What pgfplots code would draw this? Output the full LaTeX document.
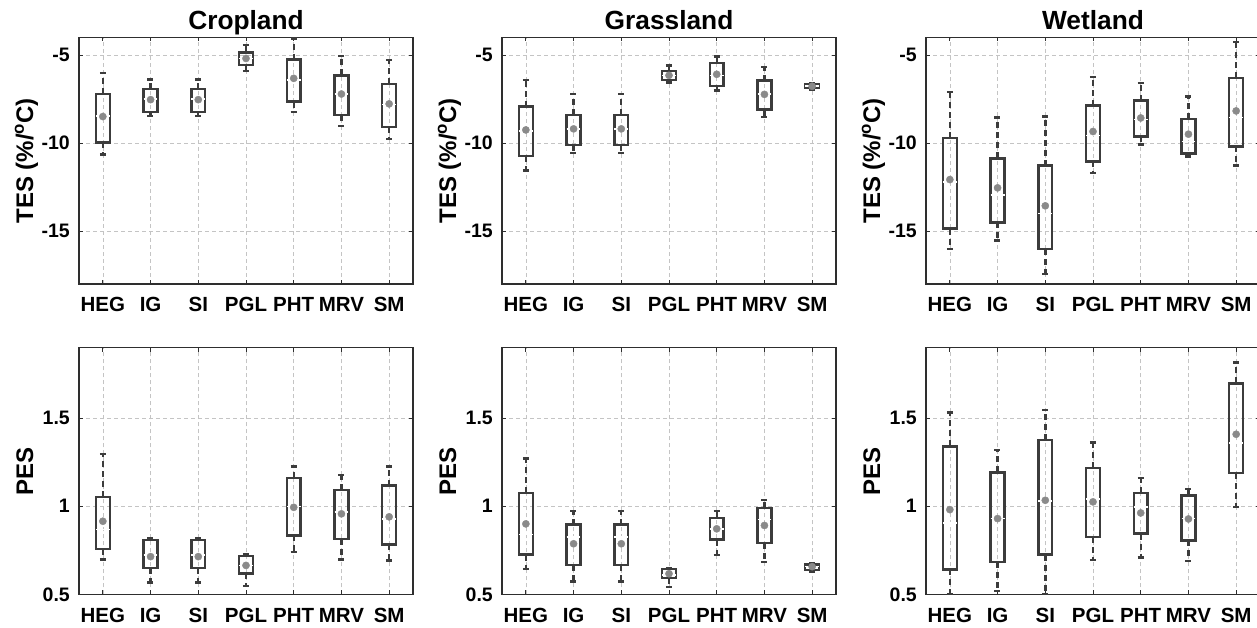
\documentclass[border=0pt]{standalone}
\usepackage{fontspec}
\setmainfont{Liberation Sans}
\usepackage{pgfplots}
\pgfplotsset{compat=1.18}
\usepgfplotslibrary{statistics}
\definecolor{boxc}{HTML}{3C3C3C}
\definecolor{dotc}{HTML}{8A8A8A}
\definecolor{gridc}{HTML}{C4C4C4}
\definecolor{axisc}{HTML}{2E2E2E}
\pgfplotsset{
  panel/.style={
    scale only axis, width=334pt, height=246.5pt,
    xmin=0.5, xmax=7.5, xtick={1,...,7},
    xticklabels={HEG,IG,SI,PGL,PHT,MRV,SM},
    tick align=inside, major tick length=4pt,
    tick style={axisc, line width=0.8pt},
    xmajorgrids, ymajorgrids,
    grid style={gridc, line width=0.6pt, dash pattern=on 4pt off 3pt},
    axis line style={axisc, line width=1.1pt},
    tick label style={font=\fontsize{19.5}{21}\selectfont\bfseries},
    xticklabel style={inner sep=0pt, yshift=-13pt, text height=14.5pt,
      font=\fontsize{20.5}{22}\selectfont\bfseries},
    yticklabel style={inner sep=0pt, xshift=-9pt},
    every axis y label/.style={at={(rel axis cs:0,0.5)}, rotate=90,
      anchor=base, yshift=46pt, inner sep=0pt,
      font=\fontsize{24}{26}\selectfont\bfseries},
    every axis title/.style={at={(0.5,1)}, anchor=base, yshift=7.7pt,
      inner sep=0pt, font=\fontsize{26.3}{28}\selectfont\bfseries},
    boxplot/draw direction=y,
    boxplot/box extend=0.29,
    boxplot/whisker extend=0.13,
    boxplot/every box/.style={draw=boxc, line width=2.4pt, solid},
    boxplot/every whisker/.style={draw=boxc, line width=2.4pt,
      dash pattern=on 6pt off 4pt},
    boxplot/every median/.style={draw=white, line width=1.6pt, solid},
    boxplot/every average/.style={/tikz/mark=*, /tikz/mark size=3.6pt,
      solid, line width=0.5pt},
  },
  tes/.style={ymin=-18, ymax=-4, ytick={-15,-10,-5},
    yticklabels={-15,-10,-5}, ylabel={TES (\%/\textsuperscript{o}C)}},
  pes/.style={ymin=0.5, ymax=1.9, ytick={0.5,1,1.5},
    yticklabels={0.5,1,1.5}, ylabel={PES}},
}
% position, lower whisker, lower quartile, median, upper quartile, upper whisker, average
\newcommand{\bx}[7]{\addplot[dotc, boxplot prepared={draw position=#1,
  lower whisker=#2, lower quartile=#3, median=#4, upper quartile=#5,
  upper whisker=#6, average=#7}] coordinates {};}
\begin{document}
\begin{tikzpicture}
% ---- row 1: TES ----
\begin{axis}[panel, tes, title={Cropland}, at={(79pt,343pt)}, anchor=south west]
\bx{1}{-10.64}{-9.96}{-8.45}{-7.21}{-6.00}{-8.49}
\bx{2}{-8.45}{-8.23}{-7.50}{-6.94}{-6.38}{-7.53}
\bx{3}{-8.45}{-8.23}{-7.50}{-6.94}{-6.38}{-7.53}
\bx{4}{-5.89}{-5.57}{-5.20}{-4.85}{-4.43}{-5.19}
\bx{5}{-8.23}{-7.64}{-6.42}{-5.25}{-4.06}{-6.32}
\bx{6}{-9.02}{-8.40}{-7.20}{-6.15}{-5.06}{-7.21}
\bx{7}{-9.77}{-9.08}{-7.80}{-6.64}{-5.28}{-7.77}
\end{axis}
\begin{axis}[panel, tes, title={Grassland}, at={(502pt,343pt)}, anchor=south west]
\bx{1}{-11.55}{-10.74}{-9.30}{-7.92}{-6.42}{-9.25}
\bx{2}{-10.55}{-10.09}{-9.20}{-8.40}{-7.21}{-9.19}
\bx{3}{-10.55}{-10.09}{-9.20}{-8.40}{-7.21}{-9.19}
\bx{4}{-6.55}{-6.43}{-6.15}{-5.89}{-5.60}{-6.15}
\bx{5}{-7.02}{-6.74}{-6.15}{-5.45}{-5.08}{-6.09}
\bx{6}{-8.53}{-8.09}{-7.20}{-6.45}{-5.66}{-7.23}
\bx{7}{-6.96}{-6.87}{-6.77}{-6.66}{-6.58}{-6.77}
\end{axis}
\begin{axis}[panel, tes, title={Wetland}, at={(926pt,343pt)}, anchor=south west]
\bx{1}{-16.02}{-14.85}{-12.20}{-9.70}{-7.11}{-12.07}
\bx{2}{-15.52}{-14.50}{-12.96}{-10.87}{-8.55}{-12.54}
\bx{3}{-17.43}{-16.02}{-14.00}{-11.28}{-8.49}{-13.56}
\bx{4}{-11.68}{-11.04}{-9.57}{-7.87}{-6.26}{-9.34}
\bx{5}{-10.08}{-9.62}{-8.66}{-7.58}{-6.58}{-8.57}
\bx{6}{-10.75}{-10.58}{-9.90}{-8.64}{-7.35}{-9.49}
\bx{7}{-11.26}{-10.19}{-8.55}{-6.31}{-4.25}{-8.17}
\end{axis}
% ---- row 2: PES ----
\begin{axis}[panel, pes, at={(79pt,32.7pt)}, anchor=south west]
\bx{1}{0.698}{0.758}{0.868}{1.052}{1.296}{0.915}
\bx{2}{0.568}{0.648}{0.722}{0.809}{0.820}{0.714}
\bx{3}{0.568}{0.648}{0.722}{0.809}{0.820}{0.714}
\bx{4}{0.547}{0.619}{0.664}{0.717}{0.726}{0.664}
\bx{5}{0.740}{0.834}{0.998}{1.160}{1.226}{0.994}
\bx{6}{0.698}{0.815}{0.966}{1.094}{1.179}{0.957}
\bx{7}{0.692}{0.783}{0.928}{1.117}{1.226}{0.940}
\end{axis}
\begin{axis}[panel, pes, at={(502pt,32.7pt)}, anchor=south west]
\bx{1}{0.645}{0.726}{0.840}{1.075}{1.272}{0.900}
\bx{2}{0.572}{0.666}{0.825}{0.896}{0.972}{0.787}
\bx{3}{0.572}{0.666}{0.825}{0.896}{0.972}{0.787}
\bx{4}{0.543}{0.594}{0.610}{0.645}{0.651}{0.617}
\bx{5}{0.723}{0.811}{0.870}{0.934}{0.972}{0.872}
\bx{6}{0.685}{0.792}{0.925}{0.991}{1.034}{0.891}
\bx{7}{0.626}{0.638}{0.657}{0.670}{0.675}{0.657}
\end{axis}
\begin{axis}[panel, pes, at={(926pt,32.7pt)}, anchor=south west]
\bx{1}{0.500}{0.642}{0.906}{1.340}{1.532}{0.981}
\bx{2}{0.519}{0.683}{0.930}{1.192}{1.321}{0.930}
\bx{3}{0.500}{0.726}{1.030}{1.377}{1.547}{1.034}
\bx{4}{0.694}{0.826}{1.040}{1.217}{1.362}{1.025}
\bx{5}{0.708}{0.845}{0.996}{1.075}{1.160}{0.962}
\bx{6}{0.689}{0.806}{0.930}{1.062}{1.098}{0.928}
\bx{7}{0.996}{1.189}{1.358}{1.698}{1.817}{1.409}
\end{axis}
\pgfresetboundingbox
\useasboundingbox (0pt,0pt) rectangle (1257pt,627pt);
\end{tikzpicture}
\end{document}
